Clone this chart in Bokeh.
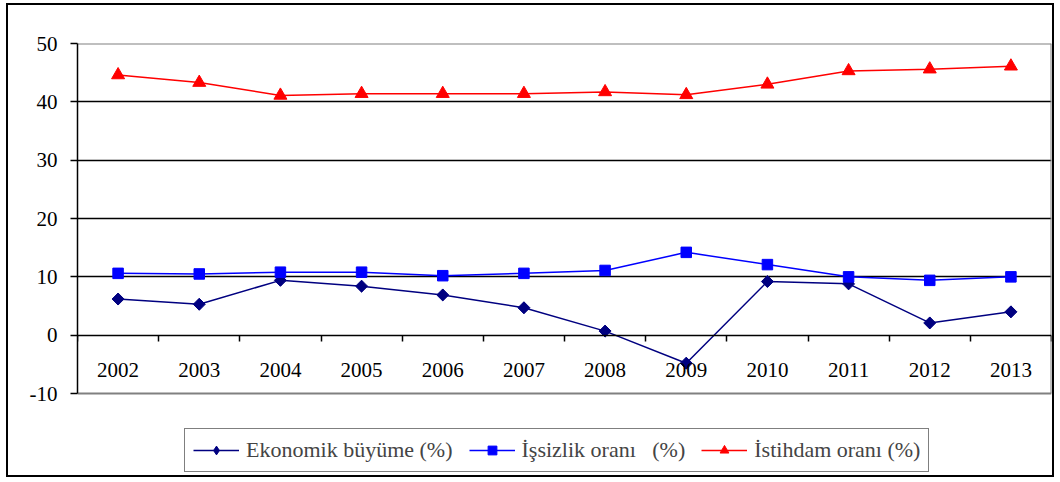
import math
from bokeh.plotting import figure
from bokeh.models import FixedTicker, Legend, LegendItem, Range1d
from bokeh.embed import file_html
from bokeh.resources import INLINE

years = ["2002", "2003", "2004", "2005", "2006", "2007", "2008", "2009", "2010", "2011", "2012", "2013"]
ekonomik = [6.2, 5.3, 9.4, 8.4, 6.9, 4.7, 0.7, -4.8, 9.2, 8.8, 2.1, 4.0]
issizlik = [10.6, 10.5, 10.8, 10.8, 10.2, 10.6, 11.1, 14.2, 12.1, 10.0, 9.4, 10.0]
istihdam = [44.6, 43.3, 41.1, 41.4, 41.4, 41.4, 41.7, 41.2, 43.0, 45.3, 45.6, 46.1]
y_ticks = [-10, 0, 10, 20, 30, 40, 50]
labels = ["Ekonomik büyüme (%)", "İşsizlik oranı   (%)", "İstihdam oranı (%)"]

n = len(years)
x = [i + 0.5 for i in range(n)]
FONT = "'Liberation Serif', 'Times New Roman', serif"
y_lo, y_hi = y_ticks[0], y_ticks[-1]
# extra room under the plot area for the legend (in data units)
y_frame_lo = y_lo - 14.05

p = figure(width=1048, height=474, x_range=Range1d(0, n), y_range=Range1d(y_frame_lo, y_hi),
           output_backend="svg", toolbar_location=None,
           min_border_left=69, min_border_top=38, min_border_right=5, min_border_bottom=4)
p.styles = {"border": "2px solid black", "margin-left": "6px", "margin-top": "3px"}
p.outline_line_color = None

p.xgrid.visible = False
p.ygrid.ticker = FixedTicker(ticks=[t for t in y_ticks if t not in (0, y_lo, y_hi)])
p.ygrid.grid_line_color = "black"
p.ygrid.grid_line_width = 1.5

# plot-area border (grey) on top, right and bottom
p.segment(x0=[0, n, 0], y0=[y_hi, y_lo, y_lo], x1=[n, n, n], y1=[y_hi, y_hi, y_lo],
          line_color="#808080", line_width=2)

xa = p.xaxis[0]
xa.ticker = FixedTicker(ticks=x, minor_ticks=list(range(n + 1)))
xa.major_label_overrides = {xi: y for xi, y in zip(x, years)}
xa.fixed_location = 0
xa.major_tick_in = 0
xa.major_tick_out = 0
xa.minor_tick_in = 0
xa.minor_tick_out = 6
xa.minor_tick_line_color = "black"
xa.minor_tick_line_width = 1.5
xa.axis_line_color = "black"
xa.axis_line_width = 1.5
xa.major_label_standoff = 22
xa.major_label_text_font = FONT
xa.major_label_text_font_size = "21px"
xa.major_label_text_color = "black"

ya = p.yaxis[0]
ya.ticker = FixedTicker(ticks=y_ticks, minor_ticks=[])
ya.bounds = (y_lo, y_hi)
ya.major_label_overrides = {t: str(t) for t in y_ticks}
ya.major_tick_in = 0
ya.major_tick_out = 7
ya.major_tick_line_color = "black"
ya.major_tick_line_width = 1.5
ya.axis_line_color = "black"
ya.axis_line_width = 1.5
ya.major_label_standoff = 13
ya.major_label_text_font = FONT
ya.major_label_text_font_size = "21px"
ya.major_label_text_color = "black"

r1 = p.line(x, ekonomik, line_color="#000080", line_width=1.5)
d1 = p.scatter(x, ekonomik, marker="diamond", size=11, color="#000080")
s1 = p.scatter(x, ekonomik, marker="square", size=8.5, angle=math.pi / 4, color="#000080")
r2 = p.line(x, issizlik, line_color="#0000FF", line_width=1.5)
s2 = p.scatter(x, issizlik, marker="square", size=10.5, color="#0000FF")
r3 = p.line(x, istihdam, line_color="#FF0000", line_width=1.5)
s3 = p.scatter(x, istihdam, marker="triangle", size=13, color="#FF0000")

legend = Legend(items=[LegendItem(label=labels[0], renderers=[r1, d1]),
                       LegendItem(label=labels[1], renderers=[r2, s2]),
                       LegendItem(label=labels[2], renderers=[r3, s3])],
                orientation="horizontal", location=(107, 3),
                label_text_font=FONT, label_text_font_size="22px",
                glyph_width=46, glyph_height=22, label_standoff=7, spacing=16,
                border_line_color="black", border_line_width=1.5, padding=8, margin=0,
                background_fill_color="white", background_fill_alpha=1.0)
p.add_layout(legend, "center")

open("out.html", "w").write(file_html(p, INLINE))
